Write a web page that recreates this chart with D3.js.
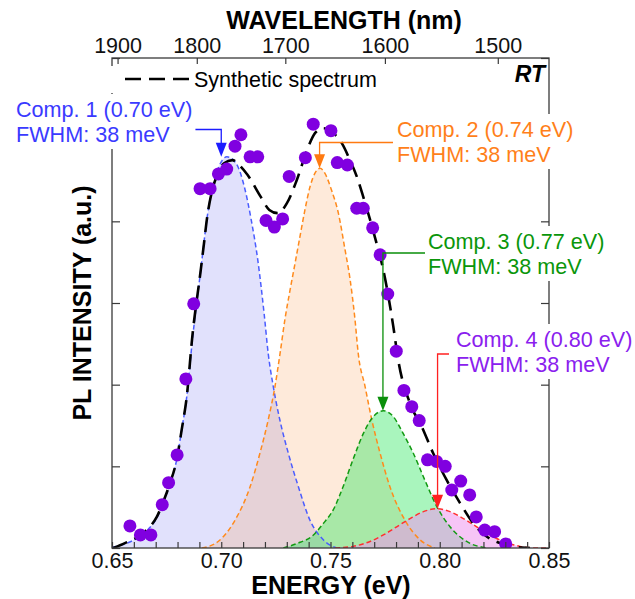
<!DOCTYPE html>
<html>
<head>
<meta charset="utf-8">
<script src="https://cdn.jsdelivr.net/npm/d3@7"></script>
<style>
body { margin: 0; background: #fff; }
svg { display: block; font-family: Arial, "Liberation Sans", sans-serif; }
</style>
</head>
<body>
<svg id="chart" width="635" height="599"></svg>
<script>
//
// Data (energy in eV, intensity in a.u.)
//

// measured PL points
var dataE = [0.6582, 0.6630, 0.6678, 0.6730, 0.6759, 0.6798, 0.6838, 0.6874, 0.6903, 0.6949,
             0.6987, 0.7025, 0.7063, 0.7090, 0.7132, 0.7167, 0.7205, 0.7243, 0.7281, 0.7311,
             0.7385, 0.7421, 0.7502, 0.7531, 0.7577, 0.7620, 0.7650, 0.7693, 0.7727, 0.7762,
             0.7801, 0.7836, 0.7872, 0.7906, 0.7944, 0.7985, 0.8025, 0.8055, 0.8096, 0.8137,
             0.8167, 0.8206, 0.8251, 0.8302];
var dataI = [0.27, 0.16, 0.16, 0.53, 0.80, 1.14, 2.07, 2.99, 4.40, 4.40,
             4.58, 4.64, 4.92, 5.06, 4.79, 4.79, 4.01, 3.93, 4.03, 4.55,
             4.78, 5.19, 5.11, 4.72, 4.69, 4.16, 4.16, 3.92, 3.59, 3.11,
             2.41, 1.93, 1.73, 1.56, 1.08, 1.06, 1.00, 0.71, 0.82, 0.65,
             0.38, 0.22, 0.20, 0.05];

// synthetic spectrum (black dashed)
var synthE = [0.6506, 0.6559, 0.6620, 0.6666, 0.6705, 0.6735, 0.6765, 0.6796, 0.6819, 0.6842,
              0.6868, 0.6906, 0.6921, 0.6936, 0.6955, 0.6982, 0.7013, 0.7051, 0.7082, 0.7120,
              0.7181, 0.7220, 0.7258, 0.7300, 0.7345, 0.7398, 0.7429, 0.7467, 0.7513, 0.7551,
              0.7589, 0.7620, 0.7650, 0.7681, 0.7711, 0.7742, 0.7765, 0.7787, 0.7810, 0.7864,
              0.7917, 0.7970, 0.8032, 0.8093, 0.8154, 0.8215, 0.8276, 0.8352, 0.8413];
var synthI = [0.00, 0.06, 0.14, 0.24, 0.38, 0.57, 0.79, 1.08, 1.45, 1.85,
              2.60, 3.40, 3.73, 4.06, 4.34, 4.57, 4.71, 4.75, 4.69, 4.57,
              4.30, 4.14, 4.10, 4.22, 4.50, 4.91, 5.08, 5.14, 5.08, 4.96,
              4.75, 4.55, 4.30, 4.02, 3.73, 3.40, 3.08, 2.72, 2.30, 1.77,
              1.49, 1.16, 0.83, 0.55, 0.30, 0.14, 0.06, 0.01, 0.00];

// component 1 (0.70 eV)
var comp1E = [0.6500, 0.6559, 0.6620, 0.6666, 0.6705, 0.6735, 0.6765, 0.6796, 0.6819, 0.6842,
              0.6868, 0.6906, 0.6936, 0.6955, 0.6982, 0.7026, 0.7068, 0.7106, 0.7137, 0.7167,
              0.7197, 0.7215, 0.7238, 0.7268, 0.7307, 0.7353, 0.7406, 0.7467, 0.7528];
var comp1I = [0.01, 0.05, 0.13, 0.23, 0.37, 0.56, 0.79, 1.08, 1.45, 1.85,
              2.55, 3.40, 4.06, 4.36, 4.62, 4.79, 4.71, 4.42, 4.02, 3.53,
              2.85, 2.38, 1.98, 1.57, 1.16, 0.75, 0.34, 0.10, 0.00];

// component 2 (0.74 eV)
var comp2E = [0.6911, 0.6986, 0.7063, 0.7132, 0.7177, 0.7215, 0.7246, 0.7269, 0.7292, 0.7315,
              0.7338, 0.7360, 0.7383, 0.7406, 0.7429, 0.7452, 0.7474, 0.7505, 0.7536, 0.7566,
              0.7589, 0.7612, 0.7627, 0.7658, 0.7689, 0.7727, 0.7772, 0.7841, 0.7910, 0.7978];
var comp2I = [0.00, 0.08, 0.34, 0.75, 1.16, 1.57, 1.98, 2.38, 2.81, 3.16,
              3.49, 3.81, 4.14, 4.42, 4.59, 4.65, 4.59, 4.38, 4.10, 3.66,
              3.30, 2.80, 2.38, 1.98, 1.57, 1.16, 0.75, 0.34, 0.10, 0.00];

// component 3 (0.77 eV)
var comp3E = [0.7284, 0.7361, 0.7414, 0.7467, 0.7513, 0.7559, 0.7604, 0.7650, 0.7696, 0.7742,
              0.7787, 0.7833, 0.7879, 0.7932, 0.7986, 0.8047, 0.8123, 0.8215];
var comp3I = [0.00, 0.07, 0.14, 0.30, 0.47, 0.76, 1.09, 1.40, 1.61, 1.68,
              1.61, 1.40, 1.16, 0.83, 0.51, 0.26, 0.08, 0.00];

// component 4 (0.80 eV)
var comp4E = [0.7521, 0.7604, 0.7681, 0.7742, 0.7803, 0.7864, 0.7925, 0.7986, 0.8047, 0.8108,
              0.8169, 0.8230, 0.8291, 0.8367, 0.8444, 0.8500];
var comp4I = [0.00, 0.02, 0.08, 0.16, 0.26, 0.36, 0.445, 0.48, 0.445, 0.36,
              0.26, 0.16, 0.08, 0.02, 0.00, 0.00];

// labels
var compNames = ["Comp. 1 (0.70 eV)", "Comp. 2 (0.74 eV)", "Comp. 3 (0.77 eV)", "Comp. 4 (0.80 eV)"];
var compFwhm = ["FWHM: 38 meV", "FWHM: 38 meV", "FWHM: 38 meV", "FWHM: 38 meV"];
var arrowE = [0.700, 0.745, 0.774, 0.799];
var energyTicks = [0.65, 0.70, 0.75, 0.80, 0.85];
var wavelengthTicks = [1900, 1800, 1700, 1600, 1500];
var intensityTicks = [0, 1, 2, 3, 4, 5, 6];


//
// Set up
//

var svg = d3.select("#chart");
var pL = 112, pR = 549, pT = 58, pB = 548;

var x = d3.scaleLinear().domain([0.65, 0.85]).range([pL, pR]);
var y = d3.scaleLinear().domain([0, 6]).range([pB, pT]);

var comps = [
  {E: comp1E, I: comp1I, line: "#4a5cff", fill: "rgba(90,90,240,0.18)", text: "#3a3aff", arrow: "#1c1cff"},
  {E: comp2E, I: comp2I, line: "#ff8a1c", fill: "rgba(250,150,70,0.2)", text: "#ff7f1a", arrow: "#ff7a10"},
  {E: comp3E, I: comp3I, line: "#129a12", fill: "rgba(40,230,90,0.4)", text: "#0a960a", arrow: "#0a8f0a"},
  {E: comp4E, I: comp4I, line: "#ff3030", fill: "rgba(238,150,238,0.55)", text: "#8a20ee", arrow: "#ff2020"}
];

// where each label sits (pixels)
var annPos = [
  {tx: 16, ty: 117, hx: 187, hy: 129.5},
  {tx: 397, ty: 137, hx: 393, hy: 142.5},
  {tx: 428, ty: 249, hx: 427, hy: 253},
  {tx: 456, ty: 347, hx: 449, hy: 354}
];

svg.append("defs").append("clipPath").attr("id", "plotclip")
  .append("rect").attr("x", pL).attr("y", pT).attr("width", pR - pL).attr("height", pB - pT);

var plot = svg.append("g").attr("clip-path", "url(#plotclip)");

var area = function(E, I) {
  return d3.area().curve(d3.curveMonotoneX)
    .x(function(d, i) { return x(E[i]); })
    .y0(y(0))
    .y1(function(d, i) { return y(I[i]); })(E);
};
var line = function(E, I) {
  return d3.line().curve(d3.curveMonotoneX)
    .x(function(d, i) { return x(E[i]); })
    .y(function(d, i) { return y(I[i]); })(E);
};

//Fills and dashed component curves
comps.forEach(function(c) {
  plot.append("path").attr("d", area(c.E, c.I)).attr("fill", c.fill).attr("stroke", "none");
});
comps.forEach(function(c) {
  plot.append("path").attr("d", line(c.E, c.I))
    .attr("fill", "none").attr("stroke", c.line)
    .attr("stroke-width", 1.5).attr("stroke-dasharray", "5,3");
});

//Synthetic spectrum
plot.append("path").attr("d", line(synthE, synthI))
  .attr("fill", "none").attr("stroke", "#000")
  .attr("stroke-width", 2.6).attr("stroke-dasharray", "15,8");

//Arrows
var arrows = svg.append("g");
comps.forEach(function(c, k) {
  var p = annPos[k];
  var tx = x(arrowE[k]);
  var ty = y(d3.max(c.I));
  arrows.append("path")
    .attr("d", "M" + p.hx + "," + p.hy + "H" + tx + "V" + (ty - 12))
    .attr("fill", "none").attr("stroke", c.arrow).attr("stroke-width", 1.3);
  arrows.append("path")
    .attr("d", "M" + (tx - 5.5) + "," + (ty - 14) + "L" + (tx + 5.5) + "," + (ty - 14) + "L" + tx + "," + ty + "Z")
    .attr("fill", c.arrow);
});

//Measured points
plot.append("g").selectAll("circle").data(dataE).enter().append("circle")
  .attr("cx", function(d) { return x(d); })
  .attr("cy", function(d, i) { return y(dataI[i]); })
  .attr("r", 6.5)
  .attr("fill", "#8000e0");


//
// Axes
//

var axisColor = "#3a3a3a";

var gb = svg.append("g").attr("transform", "translate(0," + pB + ")")
  .call(d3.axisBottom(x).tickValues(d3.range(0, 21).map(function(i) { return 0.65 + i * 0.01; }))
    .tickSize(-6).tickPadding(5)
    .tickFormat(function(d) {
      var k = Math.round(d * 100);
      return k % 5 === 0 ? d3.format(".2f")(d) : "";
    }));

var gt = svg.append("g").attr("transform", "translate(0," + pT + ")")
  .call(d3.axisTop(x).tickValues(wavelengthTicks.map(function(w) { return 1239.84 / w; }))
    .tickSize(-6).tickPadding(5)
    .tickFormat(function(d, i) { return wavelengthTicks[i]; }));

var gl = svg.append("g").attr("transform", "translate(" + pL + ",0)")
  .call(d3.axisLeft(y).tickValues(intensityTicks).tickSize(-8).tickFormat(""));

var gr = svg.append("g").attr("transform", "translate(" + pR + ",0)")
  .call(d3.axisRight(y).tickValues(intensityTicks).tickSize(-8).tickFormat(""));

[gb, gt, gl, gr].forEach(function(g) {
  g.select(".domain").remove();
  g.selectAll("line").attr("stroke", axisColor).attr("stroke-width", 1.2);
  g.selectAll("text").attr("font-size", 21.5).attr("fill", "#111")
    .attr("font-family", "Arial, 'Liberation Sans', sans-serif");
});

svg.append("rect").attr("x", pL).attr("y", pT)
  .attr("width", pR - pL).attr("height", pB - pT)
  .attr("fill", "none").attr("stroke", axisColor).attr("stroke-width", 1.3);

//Axis titles
svg.append("text").attr("x", 344).attr("y", 29).attr("text-anchor", "middle")
  .attr("font-size", 25).attr("font-weight", "bold").text("WAVELENGTH (nm)");
svg.append("text").attr("x", 331).attr("y", 594).attr("text-anchor", "middle")
  .attr("font-size", 25).attr("font-weight", "bold").text("ENERGY (eV)");
svg.append("text").attr("transform", "translate(91,303) rotate(-90)").attr("text-anchor", "middle")
  .attr("font-size", 25).attr("font-weight", "bold").text("PL INTENSITY (a.u.)");


//
// Legend and labels (white boxes hide the frame behind them)
//

var leg = svg.append("g");
leg.append("rect").attr("x", 104).attr("y", 66).attr("width", 285).attr("height", 27).attr("fill", "#fff");
leg.append("line").attr("x1", 125).attr("x2", 191).attr("y1", 79).attr("y2", 79)
  .attr("stroke", "#000").attr("stroke-width", 2.6).attr("stroke-dasharray", "16,8");
leg.append("text").attr("x", 194).attr("y", 87).attr("font-size", 21.5).text("Synthetic spectrum");

svg.append("text").attr("x", 545).attr("y", 82).attr("text-anchor", "end")
  .attr("font-size", 23).attr("font-weight", "bold").attr("font-style", "italic").text("RT");

comps.forEach(function(c, k) {
  var p = annPos[k];
  var g = svg.append("g");
  var bg = g.append("rect").attr("fill", "#fff");
  var t = g.append("text").attr("font-size", 21.6).attr("fill", c.text);
  t.append("tspan").attr("x", p.tx).attr("y", p.ty).text(compNames[k]);
  t.append("tspan").attr("x", p.tx).attr("y", p.ty + 25).text(compFwhm[k]);
  var b = t.node().getBBox();
  bg.attr("x", b.x - 3).attr("y", b.y - 3).attr("width", b.width + 6).attr("height", b.height + 5);
});
</script>
</body>
</html>
